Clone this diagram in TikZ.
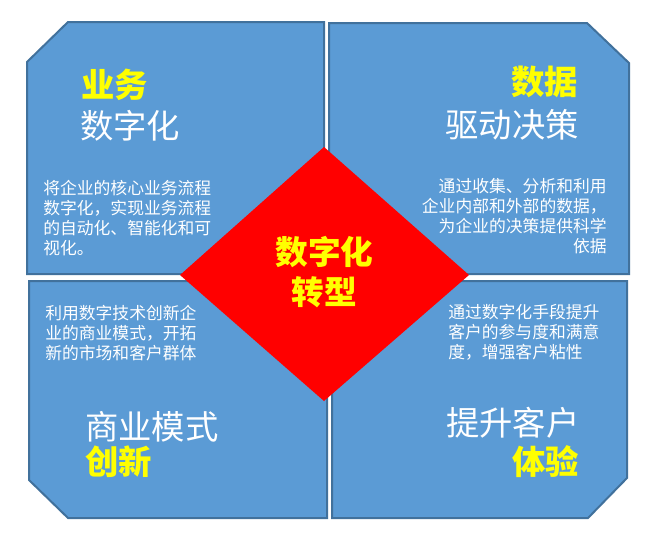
\documentclass[tikz,border=0pt]{standalone}
\usepackage{fontspec}
\setmainfont{Noto Sans CJK SC}
\definecolor{boxfill}{HTML}{5B9BD5}
\definecolor{boxline}{HTML}{41719C}
\definecolor{ttlyellow}{HTML}{FFFF00}
\definecolor{dred}{HTML}{FF0000}
\tikzset{
  quad/.style={fill=boxfill, draw=boxline, line width=1.5pt, line join=miter},
  ytitle/.style={text=ttlyellow, inner sep=0pt, font=\fontsize{25}{29}\selectfont\bfseries},
  wtitle/.style={text=white, inner sep=0pt, font=\fontsize{25}{29}\selectfont},
  body/.style={text=white, inner sep=0pt, font=\fontsize{12.6}{15}\selectfont},
  ctitle/.style={text=ttlyellow, inner sep=0pt, align=center, font=\fontsize{24.5}{30.5}\selectfont\bfseries},
}
\begin{document}
\begin{tikzpicture}[x=0.75pt, y=-0.75pt]
\useasboundingbox (0,0) rectangle (653,539);
\fill[white] (0,0) rectangle (653,539);
% quadrant boxes
\draw[quad] (68,22) -- (324,22) -- (324,274) -- (27,274) -- (27,62) -- cycle;
\draw[quad] (329,23) -- (587,23) -- (629,63) -- (629,274) -- (329,274) -- cycle;
\draw[quad] (29,281) -- (327,281) -- (327,518) -- (68,518) -- (29,480) -- cycle;
\draw[quad] (332,281) -- (627,281) -- (627,478) -- (588,518) -- (332,518) -- cycle;
% central diamond
\fill[dred] (324,147) -- (469,275) -- (324,401) -- (180,275) -- cycle;
\node[ctitle] (center) at (324.5,272) {数字化\\转型};
% top-left
\node[ytitle, anchor=west] (tl1) at (81,85) {业务};
\node[wtitle, anchor=west] (tl2) at (80,126) {数字化};
\node[body, anchor=west, align=left] (tlb) at (43,218) {将企业的核心业务流程\\数字化，实现业务流程\\的自动化、智能化和可\\视化。};
% top-right
\node[ytitle, anchor=east] (tr1) at (578,82) {数据};
\node[wtitle, anchor=east] (tr2) at (579,125) {驱动决策};
\node[body, anchor=east, align=right] (trb) at (607,216) {通过收集、分析和利用\\企业内部和外部的数据，\\为企业的决策提供科学\\依据};
% bottom-left
\node[body, anchor=west, align=left] (blb) at (45,333) {利用数字技术创新企\\业的商业模式，开拓\\新的市场和客户群体};
\node[wtitle, anchor=west] (bl1) at (85,427) {商业模式};
\node[ytitle, anchor=west] (bl2) at (85,462) {创新};
% bottom-right
\node[body, anchor=west, align=left] (brb) at (448,332) {通过数字化手段提升\\客户的参与度和满意\\度，增强客户粘性};
\node[wtitle, anchor=west] (br1) at (446,423) {提升客户};
\node[ytitle, anchor=east] (br2) at (579,462) {体验};
\end{tikzpicture}
\end{document}
